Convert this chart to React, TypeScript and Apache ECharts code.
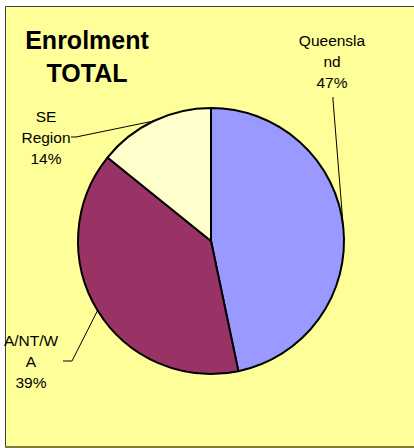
import React, { useEffect, useRef } from "react";
import * as echarts from "echarts";

const categories = ["Queensland", "A/NT/WA", "SE Region"];
const values = [46.7, 39.1, 14.2];
const wrappedNames = ["Queensla\nnd", "A/NT/W\nA", "SE\nRegion"];
const colors = ["#9999FF", "#993366", "#FFFFCC"];
const titleText = "Enrolment\nTOTAL";

// label block centres and leader line end points (layout, not data)
const labelPos = [
  { x: 332, y: 61, line: [[333, 100], [333, 97]] },
  { x: 31, y: 361, line: [[72, 361], [63, 361]] },
  { x: 46, y: 137, line: [[76, 137], [71, 137]] },
];

export default function App() {
  const ref = useRef<HTMLDivElement>(null);
  useEffect(() => {
    const chart = echarts.init(ref.current!, null, { renderer: "svg" });
    chart.setOption({
      animation: false,
      backgroundColor: "#ffffff",
      graphic: [
        {
          type: "rect",
          z: -10,
          shape: { x: 5.5, y: 6.5, width: 420, height: 440 },
          style: { fill: "#FFFF99", stroke: "#404040", lineWidth: 1 },
        },
        {
          type: "line",
          z: -9,
          shape: { x1: 5, y1: 447, x2: 414, y2: 447 },
          style: { stroke: "#7a7a3a", lineWidth: 2 },
        },
        {
          type: "text",
          x: 87,
          y: 56,
          style: {
            text: titleText,
            textAlign: "center",
            textVerticalAlign: "middle",
            fontFamily: "Liberation Sans, Arial, sans-serif",
            fontWeight: "bold",
            fontSize: 25,
            lineHeight: 33,
            fill: "#000",
          },
        },
      ],
      series: [
        {
          type: "pie",
          center: [211, 241],
          radius: 133,
          startAngle: 90,
          clockwise: true,
          percentPrecision: 0,
          data: categories.map((c, i) => ({
            name: c,
            value: values[i],
            itemStyle: { color: colors[i] },
          })),
          itemStyle: { borderColor: "#000", borderWidth: 2 },
          label: {
            show: true,
            position: "outside",
            alignTo: "none",
            overflow: "none",
            width: 200,
            formatter: (p: any) => `${wrappedNames[p.dataIndex]}\n${p.percent}%`,
            fontFamily: "Liberation Sans, Arial, sans-serif",
            fontSize: 15.5,
            lineHeight: 21,
            color: "#000",
            align: "center",
          },
          labelLine: {
            show: true,
            lineStyle: { color: "#000", width: 1 },
          },
          labelLayout: (params: any) => {
            const lp = labelPos[params.dataIndex];
            const start =
              params.labelLinePoints && params.labelLinePoints[0]
                ? params.labelLinePoints[0]
                : lp.line[0];
            return {
              x: lp.x,
              y: lp.y,
              align: "center",
              verticalAlign: "middle",
              labelLinePoints: [start, lp.line[0], lp.line[1]],
            };
          },
          emphasis: { disabled: true },
        },
      ],
    });
    return () => chart.dispose();
  }, []);
  return (
    <div
      ref={ref}
      style={{ position: "fixed", left: 0, top: 0, width: 414, height: 448 }}
    />
  );
}
